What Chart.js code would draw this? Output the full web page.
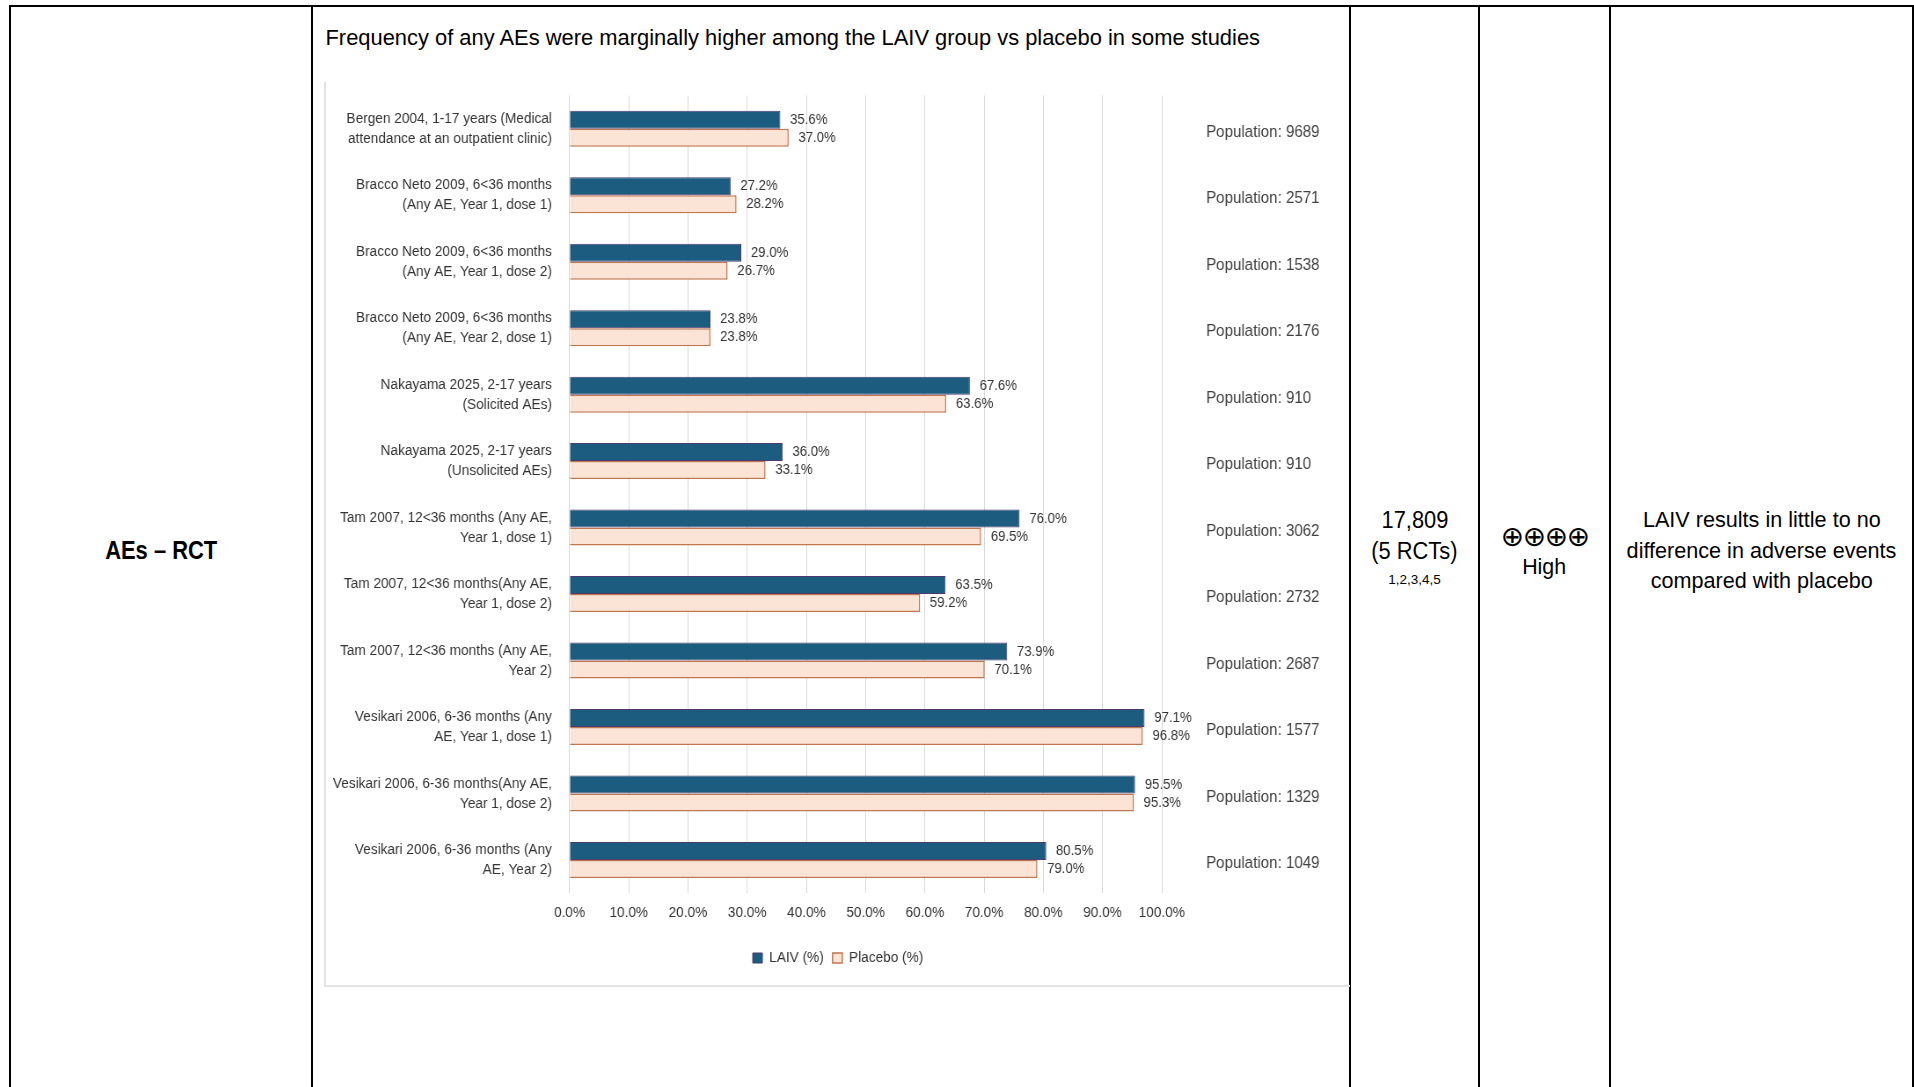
<!DOCTYPE html>
<html>
<head>
<meta charset="utf-8">
<script src="https://cdn.jsdelivr.net/npm/chart.js@4.4.1/dist/chart.umd.min.js"></script>
<style>
  html, body { margin:0; padding:0; background:#fff; width:1914px; height:1087px; overflow:hidden;
    font-family:'Liberation Sans', Arial, sans-serif; color:#000; }
  .b { position:absolute; background:#000; }
  .ln { position:absolute; white-space:nowrap; text-align:center; }
  .ln span { display:inline-block; }
  #panel { position:absolute; left:324px; top:82px; width:1024px; height:903px;
    border-left:2px solid #e3e3e3; border-bottom:2px solid #e3e3e3; overflow:hidden; }
  #squeeze { width:1164px; height:903px; transform:scaleX(0.879725); transform-origin:0 0; }
  #c { display:block; }
</style>
</head>
<body>
<!-- table rules -->
<div class="b" style="left:9px;top:5px;width:1905px;height:2px"></div>
<div class="b" style="left:9px;top:5px;width:2px;height:1082px"></div>
<div class="b" style="left:311px;top:5px;width:2px;height:1082px"></div>
<div class="b" style="left:1349px;top:5px;width:2px;height:1082px"></div>
<div class="b" style="left:1478px;top:5px;width:2px;height:1082px"></div>
<div class="b" style="left:1609px;top:5px;width:2px;height:1082px"></div>
<div class="b" style="left:1912px;top:5px;width:2px;height:1082px"></div>

<!-- column 1 -->
<div class="ln" style="left:11px;width:300px;top:535px;height:30px;line-height:30px;font-size:25.5px;font-weight:bold"><span style="transform:scaleX(0.86)">AEs – RCT</span></div>

<!-- chart title -->
<div style="position:absolute;left:325.5px;top:25px;font-size:21.9px;line-height:26px;white-space:nowrap">Frequency of any AEs were marginally higher among the LAIV group vs placebo in some studies</div>

<!-- chart panel -->
<div id="panel"><div id="squeeze"><canvas id="c" width="1164" height="903"></canvas></div></div>

<!-- participants -->
<div class="ln" style="left:1351px;width:127px;top:505px;height:30px;line-height:30px;font-size:23.5px"><span style="transform:scaleX(0.93)">17,809</span></div>
<div class="ln" style="left:1351px;width:127px;top:536px;height:30px;line-height:30px;font-size:23.5px"><span style="transform:scaleX(0.93)">(5 RCTs)</span></div>
<div class="ln" style="left:1351px;width:127px;top:571.6px;height:16px;line-height:16px;font-size:13.5px"><span>1,2,3,4,5</span></div>

<!-- certainty -->
<div class="ln" style="left:1480px;width:129px;top:522px;height:30px;line-height:30px;font-size:28px;letter-spacing:-1.5px;font-family:'DejaVu Sans',sans-serif"><span>⊕⊕⊕⊕</span></div>
<div class="ln" style="left:1480px;width:129px;top:552px;height:30px;line-height:30px;font-size:22.5px"><span style="transform:scaleX(0.95)">High</span></div>

<!-- summary -->
<div class="ln" style="left:1611px;width:301px;top:505px;height:30px;line-height:30px;font-size:22.5px"><span style="transform:scaleX(0.96)">LAIV results in little to no</span></div>
<div class="ln" style="left:1611px;width:301px;top:535.5px;height:30px;line-height:30px;font-size:22.5px"><span style="transform:scaleX(0.96)">difference in adverse events</span></div>
<div class="ln" style="left:1611px;width:301px;top:566px;height:30px;line-height:30px;font-size:22.5px"><span style="transform:scaleX(0.96)">compared with placebo</span></div>

<script>
// ---- data ----
const categories = [
  ["Bergen 2004, 1-17 years (Medical", "attendance at an outpatient clinic)"],
  ["Bracco Neto 2009, 6<36 months", "(Any AE, Year 1, dose 1)"],
  ["Bracco Neto 2009, 6<36 months", "(Any AE, Year 1, dose 2)"],
  ["Bracco Neto 2009, 6<36 months", "(Any AE, Year 2, dose 1)"],
  ["Nakayama 2025, 2-17 years", "(Solicited AEs)"],
  ["Nakayama 2025, 2-17 years", "(Unsolicited AEs)"],
  ["Tam 2007, 12<36 months (Any AE,", "Year 1, dose 1)"],
  ["Tam 2007, 12<36 months(Any AE,", "Year 1, dose 2)"],
  ["Tam 2007, 12<36 months (Any AE,", "Year 2)"],
  ["Vesikari 2006, 6-36 months (Any", "AE, Year 1, dose 1)"],
  ["Vesikari 2006, 6-36 months(Any AE,", "Year 1, dose 2)"],
  ["Vesikari 2006, 6-36 months (Any", "AE, Year 2)"]
];
const laivValues    = [35.6, 27.2, 29.0, 23.8, 67.6, 36.0, 76.0, 63.5, 73.9, 97.1, 95.5, 80.5];
const placeboValues = [37.0, 28.2, 26.7, 23.8, 63.6, 33.1, 69.5, 59.2, 70.1, 96.8, 95.3, 79.0];
const populations   = [9689, 2571, 1538, 2176, 910, 910, 3062, 2732, 2687, 1577, 1329, 1049];
const seriesNames   = ["LAIV (%)", "Placebo (%)"];
const xTickMin = 0, xTickMax = 100, xTickStep = 10;

// ---- styling ----
const FONT = "'Liberation Sans', Arial, sans-serif";
const TEXT = '#333333';

const valueLabels = {
  id: 'valueLabels',
  afterDatasetsDraw(chart) {
    const ctx = chart.ctx;
    ctx.save();
    ctx.font = '15px ' + FONT;
    ctx.fillStyle = TEXT;
    ctx.textAlign = 'left';
    ctx.textBaseline = 'middle';
    chart.data.datasets.forEach((ds, i) => {
      chart.getDatasetMeta(i).data.forEach((bar, j) => {
        ctx.fillText(ds.data[j].toFixed(1) + '%', bar.x + 11, bar.y);
      });
    });
    ctx.restore();
  }
};

const noPad = s => { s.paddingTop = 0; s.paddingBottom = 0; };

new Chart(document.getElementById('c'), {
  type: 'bar',
  data: {
    labels: categories,
    datasets: [
      { label: seriesNames[0], data: laivValues, backgroundColor: '#1c5d7f', borderColor: '#4b3b73',
        borderWidth: 1, categoryPercentage: 0.5415, barPercentage: 1 },
      { label: seriesNames[1], data: placeboValues, backgroundColor: '#fbe3d5', borderColor: '#c0764e',
        borderWidth: 1.5, categoryPercentage: 0.5415, barPercentage: 1 }
    ]
  },
  options: {
    indexAxis: 'y',
    responsive: false,
    animation: false,
    devicePixelRatio: 1,
    events: [],
    layout: { padding: { top: 13.5, left: 0, right: 0, bottom: 9.25 } },
    scales: {
      x: {
        min: xTickMin, max: xTickMax,
        ticks: { stepSize: xTickStep, callback: v => Number(v).toFixed(1) + '%', color: TEXT,
                 font: { family: FONT, size: 15.5 }, padding: 10, maxRotation: 0 },
        grid: { color: '#d9d9d9', lineWidth: 1, drawTicks: false },
        border: { display: false },
        afterFit: s => { s.height = 47.05; s.paddingLeft = 0; s.paddingRight = 0; }
      },
      y: {
        position: 'left',
        grid: { display: false, drawTicks: false },
        border: { display: false },
        ticks: { autoSkip: false, padding: 20, color: TEXT,
                 font: { family: FONT, size: 15.5, lineHeight: 1.29 } },
        afterFit: s => { s.width = 276.8; noPad(s); }
      },
      y2: {
        type: 'category', axis: 'y', position: 'right', offset: true,
        labels: populations.map(p => 'Population: ' + p),
        grid: { display: false, drawTicks: false },
        border: { display: false },
        ticks: { autoSkip: false, padding: 50.4, labelOffset: 3.5, color: '#404040',
                 font: { family: FONT, size: 17.2 } },
        afterFit: s => { s.width = 214; noPad(s); }
      }
    },
    plugins: {
      legend: {
        position: 'bottom',
        labels: { boxWidth: 11, boxHeight: 10, padding: 10, color: TEXT,
                  font: { family: FONT, size: 15.5 } }
      },
      tooltip: { enabled: false }
    }
  },
  plugins: [valueLabels]
});
</script>
</body>
</html>
